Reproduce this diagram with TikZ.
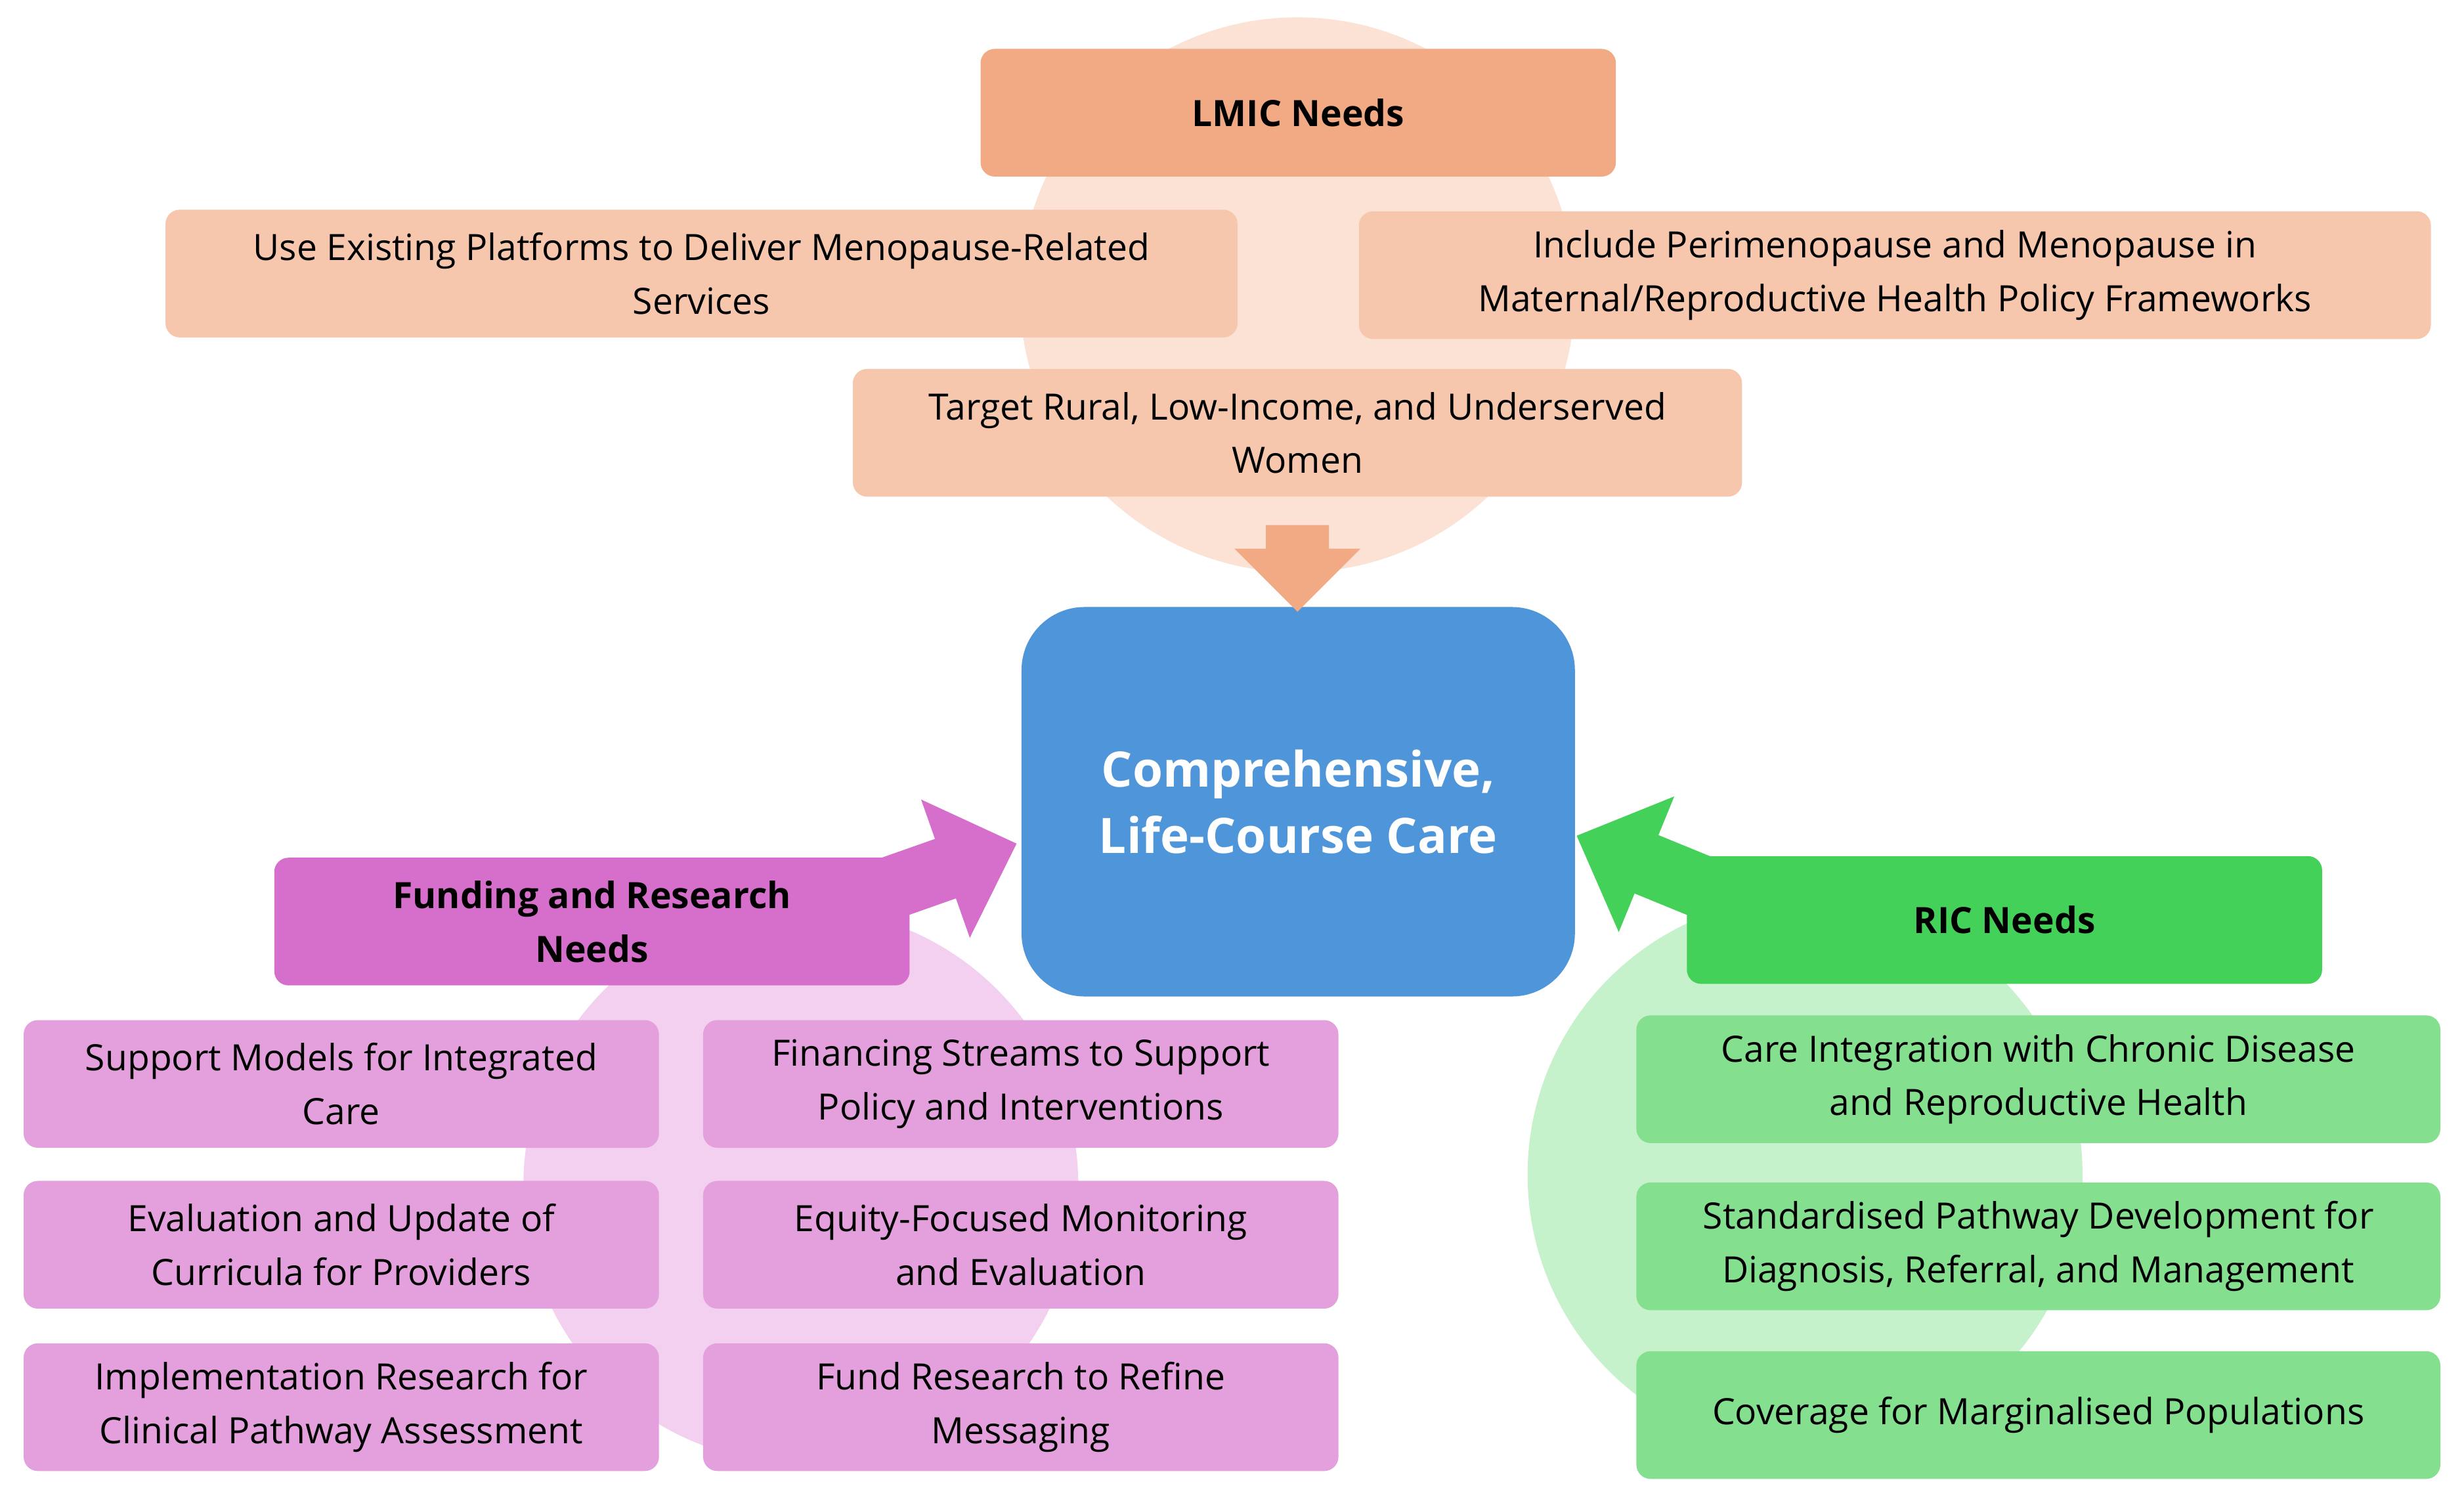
\documentclass[tikz,border=0pt]{standalone}
\usepackage{fontspec}
\setmainfont{Open Sans}
\usetikzlibrary{arrows.meta}
\definecolor{orD}{HTML}{F1AA84}\definecolor{orL}{HTML}{F6C6AD}\definecolor{orC}{HTML}{FBE2D5}
\definecolor{piD}{HTML}{D66FCB}\definecolor{piL}{HTML}{E4A0DD}\definecolor{piC}{HTML}{F3D0EF}
\definecolor{grD}{HTML}{44D15A}\definecolor{grL}{HTML}{84E08F}\definecolor{grC}{HTML}{C5F1CB}
\definecolor{bl}{HTML}{4E95D9}
\begin{document}
\begin{tikzpicture}[x=1pt,y=-1pt,
 box/.style={rounded corners=9pt,align=center,inner sep=0pt,font=\fontsize{23}{34}\selectfont},
 hd/.style={box,font=\fontsize{23}{34}\selectfont\bfseries}]
\useasboundingbox (0,0) rectangle (1563,953);
\fill[white] (0,0) rectangle (1563,953);
\fill[orC] (823,187) circle (176);
\fill[piC] (508,752) circle (176);
\fill[grC] (1145,745) circle (176);
\newcommand\bx[6]{\node[#1,fill=#2,minimum width=#5-#3,minimum height=81] (#6) at ({(#3+#5)/2},#4) {};}
% LMIC
\node[hd,fill=orD,minimum width=403,minimum height=81] (lmic) at (823.5,71.5) {LMIC Needs};
\node[box,fill=orL,minimum width=680,minimum height=81] (o1) at (445,173.5) {Use Existing Platforms to Deliver Menopause-Related\\Services};
\node[box,fill=orL,minimum width=680,minimum height=81] (o2) at (1202,174.5) {Include Perimenopause and Menopause in\\Maternal/Reproductive Health Policy Frameworks};
\node[box,fill=orL,minimum width=564,minimum height=81] (o3) at (823,274.5) {Target Rural, Low-Income, and Underserved\\Women};
\node[rounded corners=40pt,fill=bl,minimum width=351,minimum height=247,align=center,text=white,font=\fontsize{31}{42}\selectfont\bfseries] (c) at (823.5,508.5) {Comprehensive,\\Life-Course Care};
\coordinate (ot) at (823,333);
\fill[orD] (803,333) -- (843,333) -- (843,348) -- (863,348) -- (823,388) -- (783,348) -- (803,348) -- cycle;
% Funding
\node[hd,fill=piD,minimum width=403,minimum height=81] (f) at (375.5,584.5) {Funding and Research\\Needs};
\coordinate (pa) at (540,572);
\draw[piD,line width=40pt,-{Triangle[width=90pt,length=48pt]}] (pa) -- (645,535);
\coordinate (ga) at (1110,575);
\draw[grD,line width=40pt,-{Triangle[width=90pt,length=48pt]}] (ga) -- (1000,530);
\node[hd,fill=grD,minimum width=403,minimum height=81] (r) at (1271.5,583.5) {RIC Needs};
\foreach \t/\y [count=\i] in {{Support Models for Integrated\\Care}/687.5,{Evaluation and Update of\\Curricula for Providers}/789.5,{Implementation Research for\\Clinical Pathway Assessment}/892.5}
 \node[box,fill=piL,minimum width=403,minimum height=81] (pl\i) at (216.5,\y) {\t};
\foreach \t/\y [count=\i] in {{Financing Streams to Support\\Policy and Interventions}/687.5,{Equity-Focused Monitoring\\and Evaluation}/789.5,{Fund Research to Refine\\Messaging}/892.5}
 \node[box,fill=piL,minimum width=403,minimum height=81] (pr\i) at (647.5,\y) {\t};
\foreach \t/\y [count=\i] in {{Care Integration with Chronic Disease\\and Reproductive Health}/684.5,{Standardised Pathway Development for\\Diagnosis, Referral, and Management}/790.5,{Coverage for Marginalised Populations}/897.5}
 \node[box,fill=grL,minimum width=510,minimum height=81] (g\i) at (1293,\y) {\t};
\end{tikzpicture}
\end{document}
